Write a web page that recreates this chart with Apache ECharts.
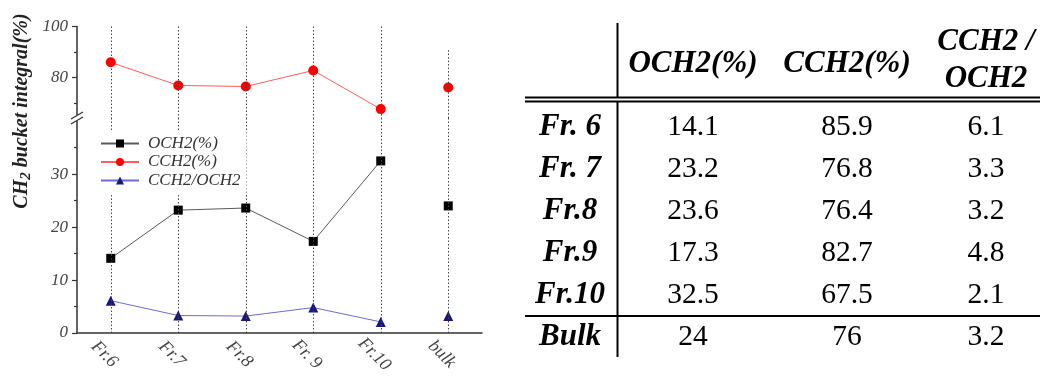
<!DOCTYPE html>
<html><head><meta charset="utf-8">
<script src="https://cdn.jsdelivr.net/npm/echarts@6/dist/echarts.min.js"></script>
<style>html,body{margin:0;padding:0;background:#fff}#c{width:1040px;height:379px}</style>
</head><body><div id="c"></div>
<script>
// ---------- data ----------
const categories = ['Fr.6', 'Fr.7', 'Fr.8', 'Fr. 9', 'Fr.10', 'bulk'];
const och2 = [14.1, 23.2, 23.6, 17.3, 32.5, 24];
const cch2 = [85.9, 76.8, 76.4, 82.7, 67.5, 76];
const ratio = [6.1, 3.3, 3.2, 4.8, 2.1, 3.2];
const seriesNames = ['OCH2(%)', 'CCH2(%)', 'CCH2/OCH2'];
const upperTicks = [80, 100];
const upperMinorTicks = [70, 90];
const lowerTicks = [0, 10, 20, 30];
const lowerMinorTicks = [5, 15, 25, 35];
const tableRowLabels = ['Fr. 6', 'Fr. 7', 'Fr.8', 'Fr.9', 'Fr.10', 'Bulk'];
const tableHeaders = [['OCH2(%)'], ['CCH2(%)'], ['CCH2 /', 'OCH2']];

// ---------- layout ----------
const W = 1040, H = 379;
const PL = 77, PR = 482, PT = 26.5, PB = 333, BRK = 118;
const UP_MIN = 64, UP_MAX = 100, LO_MIN = 0, LO_MAX = 40.6;
const BULK_TOP = 90.7;
const SERIF = '"Liberation Serif", "Times New Roman", serif';
const AX = '#333';

const nPts = categories.length;
const connected = arr => arr.map((v, i) => i < nPts - 1 ? v : '-');
const bulkOnly = arr => arr.map((v, i) => i === nPts - 1 ? v : '-');

const axisLabelStyle = { fontFamily: SERIF, fontStyle: 'italic', fontSize: 17, color: '#444' };

const styles = [
  { symbol: 'rect', size: 9, color: '#000', line: '#5a5a5a', x: 1, y: 2 },
  { symbol: 'circle', size: 10, color: '#ff0000', line: '#ff5c5c', x: 0, y: 0 },
  { symbol: 'triangle', size: 10, color: '#17177d', line: '#6c6cd0', x: 1, y: 2 }
];
const datasets = [och2, cch2, ratio];

const series = [];
datasets.forEach((arr, k) => {
  const s = styles[k];
  const base = {
    name: seriesNames[k], type: 'line', xAxisIndex: s.x, yAxisIndex: s.y,
    symbol: s.symbol, symbolSize: s.size, showSymbol: true, animation: false,
    itemStyle: { color: s.color },
    lineStyle: { color: s.line, width: 1 }, z: 3
  };
  series.push(Object.assign({}, base, { data: connected(arr) }));
  series.push(Object.assign({}, base, { data: bulkOnly(arr) }));
});

// dotted vertical guide lines
const dot = { color: '#444', width: 1, type: [1.5, 2] };
series[2].markLine = {
  silent: true, symbol: 'none', label: { show: false }, lineStyle: dot, animation: false,
  data: categories.map((c, i) => [{ coord: [i, i === nPts - 1 ? BULK_TOP : UP_MAX] }, { coord: [i, UP_MIN] }])
};
series[0].markLine = {
  silent: true, symbol: 'none', label: { show: false }, lineStyle: dot, animation: false,
  data: categories.map((c, i) => [{ coord: [i, LO_MAX] }, { coord: [i, LO_MIN] }])
};

// ---------- table (graphic) ----------
const colX = [570, 693, 847, 986];
const rowY0 = 127, rowStep = 42;
const graphics = [];
const boldIt = { fontFamily: SERIF, fontWeight: 'bold', fontStyle: 'italic', fontSize: 31, fill: '#000', align: 'center', verticalAlign: 'middle' };
const plain = { fontFamily: SERIF, fontSize: 29.5, fill: '#000', align: 'center', verticalAlign: 'middle' };
tableHeaders.forEach((lines, j) => {
  const ys = lines.length === 1 ? [64] : [42, 79];
  lines.forEach((t, m) => graphics.push({ type: 'text', x: colX[j + 1], y: ys[m], style: Object.assign({ text: t }, boldIt, { fontSize: 31 }) }));
});
tableRowLabels.forEach((lab, r) => {
  const y = rowY0 + r * rowStep;
  graphics.push({ type: 'text', x: colX[0], y: y, style: Object.assign({ text: lab }, boldIt) });
  [och2, cch2, ratio].forEach((arr, j) => {
    graphics.push({ type: 'text', x: colX[j + 1], y: y, style: Object.assign({ text: String(arr[r]) }, plain) });
  });
});
const ln = (x1, y1, x2, y2, w) => ({ type: 'line', shape: { x1, y1, x2, y2 }, style: { stroke: '#000', lineWidth: w || 2 } });
graphics.push(ln(617.5, 23, 617.5, 97.5));
graphics.push(ln(617.5, 101.5, 617.5, 357));
graphics.push(ln(525, 97.5, W, 97.5, 1.8));
graphics.push(ln(525, 101.5, W, 101.5, 1.8));
graphics.push(ln(525, 316, W, 316, 2));

// y-axis title
graphics.push({
  type: 'text', x: 22, y: 111, rotation: Math.PI / 2,
  style: {
    text: '{a|CH}{s|2}{a| bucket integral(%)}', align: 'center', verticalAlign: 'middle',
    rich: {
      a: { fontFamily: SERIF, fontWeight: 'bold', fontStyle: 'italic', fontSize: 20, fill: '#222', lineHeight: 23 },
      s: { fontFamily: SERIF, fontWeight: 'bold', fontStyle: 'italic', fontSize: 15, fill: '#222', lineHeight: 23, verticalAlign: 'bottom' }
    }
  }
});
// axis break mark
graphics.push({ type: 'rect', shape: { x: 74, y: 115, width: 6, height: 6 }, style: { fill: '#fff' }, z: 20 });
graphics.push(Object.assign(ln(71, 119, 83, 112, 1.3), { z: 21, style: { stroke: '#333', lineWidth: 1.3 } }));
graphics.push(Object.assign(ln(71, 124, 83, 117, 1.3), { z: 21, style: { stroke: '#333', lineWidth: 1.3 } }));

const yBase = (grid, min, max) => ({
  type: 'value', gridIndex: grid, min: min, max: max, position: 'left', offset: 0,
  splitLine: { show: false }
});

const option = {
  animation: false,
  backgroundColor: '#fff',
  grid: [
    { left: PL, width: PR - PL, top: PT, height: BRK - PT },
    { left: PL, width: PR - PL, top: BRK, height: PB - BRK }
  ],
  xAxis: [
    { type: 'category', gridIndex: 0, data: categories, show: false },
    {
      type: 'category', gridIndex: 1, data: categories, boundaryGap: true,
      axisLine: { lineStyle: { color: AX, width: 1.5 } },
      axisTick: { alignWithLabel: true, length: 5, lineStyle: { color: AX, width: 1.2 } },
      axisLabel: Object.assign({ interval: 0, rotate: -45, align: 'center', verticalAlign: 'top', margin: 15 }, axisLabelStyle, { fontSize: 18 })
    },
    {
      type: 'category', gridIndex: 1, data: categories, boundaryGap: true, position: 'bottom',
      axisLine: { show: false },
      axisTick: { inside: true, length: 4, lineStyle: { color: AX, width: 1.2 } },
      axisLabel: { show: false }
    }
  ],
  yAxis: [
    Object.assign(yBase(0, UP_MIN, UP_MAX), {
      axisLine: { show: true, lineStyle: { color: AX, width: 1.5 } },
      axisTick: { show: true, customValues: upperTicks, length: 5, lineStyle: { color: AX, width: 1.2 } },
      axisLabel: Object.assign({ customValues: upperTicks, margin: 9 }, axisLabelStyle)
    }),
    Object.assign(yBase(0, UP_MIN, UP_MAX), {
      axisLine: { show: false },
      axisTick: { show: true, customValues: upperMinorTicks, length: 3, lineStyle: { color: AX, width: 1.2 } },
      axisLabel: { show: false }
    }),
    Object.assign(yBase(1, LO_MIN, LO_MAX), {
      axisLine: { show: true, lineStyle: { color: AX, width: 1.5 } },
      axisTick: { show: true, customValues: lowerTicks, length: 5, lineStyle: { color: AX, width: 1.2 } },
      axisLabel: Object.assign({ customValues: lowerTicks, margin: 9 }, axisLabelStyle)
    }),
    Object.assign(yBase(1, LO_MIN, LO_MAX), {
      axisLine: { show: false },
      axisTick: { show: true, customValues: lowerMinorTicks, length: 3, lineStyle: { color: AX, width: 1.2 } },
      axisLabel: { show: false }
    })
  ],
  legend: {
    data: seriesNames, orient: 'vertical', left: 98, top: 131,
    itemWidth: 38, itemHeight: 10, itemGap: 1.5,
    backgroundColor: '#fff', padding: [4, 6, 4, 2], z: 10,
    textStyle: { fontFamily: SERIF, fontStyle: 'italic', fontSize: 17, color: '#333', lineHeight: 15, padding: [0, 0, 0, 4] }
  },
  series: series,
  graphic: graphics
};

const chart = echarts.init(document.getElementById('c'), null, { renderer: 'canvas' });
chart.setOption(option);
</script>
</body></html>
